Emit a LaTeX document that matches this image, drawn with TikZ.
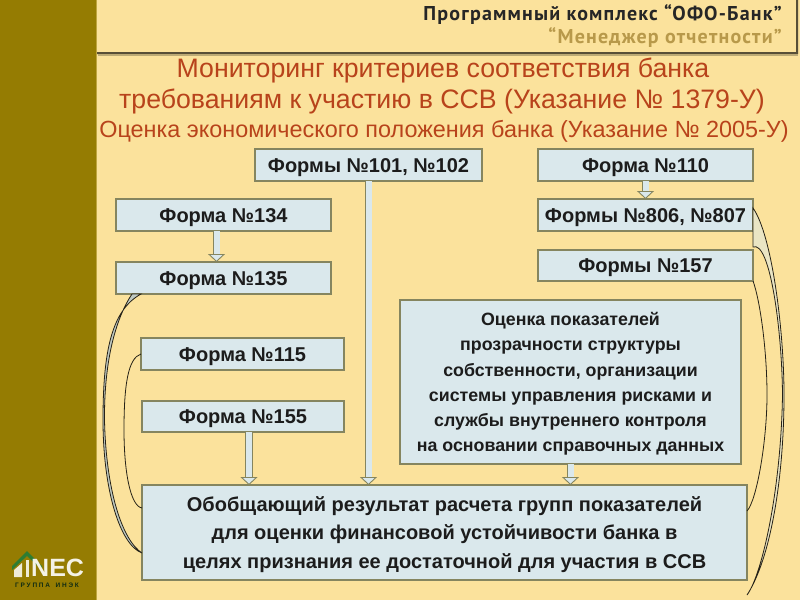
\documentclass[tikz,border=0pt]{standalone}
\usepackage{fontspec}
\setmainfont{Liberation Sans}
\newfontfamily\headfont[LetterSpace=6]{PT Sans}
\usetikzlibrary{arrows.meta}
\definecolor{bgc}{HTML}{FBE29C}
\definecolor{side}{HTML}{957C02}
\definecolor{boxf}{HTML}{DAE8EC}
\definecolor{boxb}{HTML}{85855F}
\definecolor{titlec}{HTML}{B8431B}
\definecolor{headg}{HTML}{B8994A}
\definecolor{txt}{HTML}{1C1C1C}
\definecolor{logog}{HTML}{2E7D32}
\tikzset{
 x=1pt,y=-1pt,
 formbox/.style={draw=boxb,line width=1.1pt,fill=boxf,inner sep=0pt,outer sep=0pt,text=txt,align=center,font=\fontsize{20}{24}\selectfont\bfseries},
 oneline/.style={formbox,text height=14pt,text depth=0pt},
 manyline/.style={formbox,text depth=0pt},
 blockarrow/.style={draw=boxb,line width=0.9pt,double=boxf,double distance=6pt,-{Triangle[open,fill=boxf,length=8pt,width=17pt]},shorten >=0pt},
 crescent/.style={draw=black!85!bgc,line width=0.8pt,fill=boxf!70!boxb},
 titletext/.style={text=titlec,inner sep=0pt,anchor=center}
}
\begin{document}
\begin{tikzpicture}
\useasboundingbox (0,0) rectangle (800,600);
\fill[bgc] (0,0) rectangle (800,600);
\fill[side] (0,0) rectangle (96,600);
\fill[side!60!bgc] (96,0) rectangle (97,600);
% header panel
\fill[black!65!bgc] (97,54) -- (798,54) -- (798,0) -- (796,0) -- (796,52) -- (97,52) -- cycle;
\fill[black!25!bgc] (98,54) rectangle (798,56);
\node[inner sep=0pt,anchor=east,text=black!85] (h1) at (782,15) {\headfont\fontsize{20}{24}\selectfont\bfseries Программный комплекс “ОФО-Банк”};
\node[inner sep=0pt,anchor=east,text=headg] (h2) at (782,38) {\headfont\fontsize{20}{24}\selectfont\bfseries “Менеджер отчетности”};
% titles
\node[titletext,font=\fontsize{26.7}{30}\selectfont] (t1) at (443,70) {Мониторинг критериев соответствия банка};
\node[titletext,font=\fontsize{26.7}{30}\selectfont] (t2) at (442,101) {требованиям к участию в ССВ (Указание № 1379-У)};
\node[titletext,font=\fontsize{23.4}{26}\selectfont] (t3) at (444,131) {Оценка экономического положения банка (Указание № 2005-У)};
% boxes
\node[oneline,minimum width=227pt,minimum height=32pt] (f101) at (368.5,165) {Формы №101, №102};
\node[oneline,minimum width=215pt,minimum height=32pt] (f110) at (645.5,165) {Форма №110};
\node[oneline,minimum width=215pt,minimum height=32pt] (f806) at (645.5,215) {Формы №806, №807};
\node[oneline,minimum width=215pt,minimum height=31pt] (f157) at (645.5,265.5) {Формы №157};
\node[oneline,minimum width=215pt,minimum height=32pt] (f134) at (223.5,215) {Форма №134};
\node[oneline,minimum width=215pt,minimum height=32pt] (f135) at (223.5,278) {Форма №135};
\node[oneline,minimum width=203pt,minimum height=32pt] (f115) at (242.5,354) {Форма №115};
\node[oneline,minimum width=202pt,minimum height=31pt] (f155) at (243,416.5) {Форма №155};
\node[manyline,minimum width=341pt,minimum height=164pt,font=\fontsize{17.8}{25.2}\selectfont\bfseries] (eval) at (570.5,382) {Оценка показателей\\прозрачности структуры\\собственности, организации\\системы управления рисками и\\службы внутреннего контроля\\на основании справочных данных};
\node[manyline,minimum width=605pt,minimum height=95pt,font=\fontsize{20}{28.5}\selectfont\bfseries] (sum) at (444.5,532.5) {Обобщающий результат расчета групп показателей\\для оценки финансовой устойчивости банка в\\целях признания ее достаточной для участия в ССВ};
% block arrows
\draw[blockarrow] ([xshift=-7pt]f134.south) -- ([xshift=-7pt]f135.north);
\draw[blockarrow] (f101.south) -- (f101.south |- sum.north);
\draw[blockarrow] ([xshift=6pt]f155.south) -- ([xshift=6pt]f155.south |- sum.north);
\draw[blockarrow] (f110.south) -- (f806.north);
\draw[blockarrow] (eval.south) -- (eval.south |- sum.north);
% curved connectors
\coordinate (c135) at ([xshift=25pt]f135.south west);
\coordinate (c135b) at ([xshift=16pt]f135.south west);
\coordinate (s1) at ([yshift=-68pt]sum.north west);
\draw[crescent] (c135) .. controls (112,310) and (103,350) .. (103,420) .. controls (103,490) and (120,545) .. (s1) .. controls (122,540) and (106,490) .. (104.5,420) .. controls (104,350) and (120,312) .. (c135b) -- cycle;
\coordinate (c115) at (f115.west);
\coordinate (s2) at ([yshift=-23pt]sum.north west);
\draw[black!85!bgc,line width=0.8pt] (c115) .. controls (128,358) and (124,385) .. (124,430) .. controls (124,470) and (130,506) .. (s2);
\coordinate (c806) at ([yshift=-16pt]f806.south east);
\coordinate (c806b) at (f806.north east |- 0,208);
\coordinate (tip) at (747,595);
\draw[crescent,fill=bgc!50!boxf] (c806b) .. controls (772,235) and (784,330) .. (784,395) .. controls (784,480) and (770,560) .. (tip) .. controls (762,575) and (781,490) .. (782.5,395) .. controls (782,330) and (770,240) .. (c806) -- cycle;
\coordinate (c157) at (f157.south east);
\coordinate (s3) at ([yshift=-26pt]sum.north east);
\draw[black!85!bgc,line width=0.8pt] (c157) .. controls (760,300) and (767,350) .. (767,395) .. controls (767,440) and (757,500) .. (s3);
% logo
\fill[logog] (12,566) -- (27,551) -- (42,566) -- (42,570) -- (27,556) -- (12,570) -- cycle;
\fill[white!85!side] (14,577) -- (14,570) -- (22,563) -- (22,577) -- cycle;
\fill[white!85!side] (26,577) -- (26,560) -- (29,560) -- (29,577) -- cycle;
\node[inner sep=0pt,anchor=west,text=white!90!side,font=\fontsize{25}{25}\selectfont\bfseries] (logo) at (31,568) {NEC};
\node[inner sep=0pt,anchor=center,text=black!65!logog,font=\fontsize{6.5}{7}\selectfont\bfseries] (logot) at (47,585) {Г Р У П П А \ \ И Н Э К};
\end{tikzpicture}
\end{document}
